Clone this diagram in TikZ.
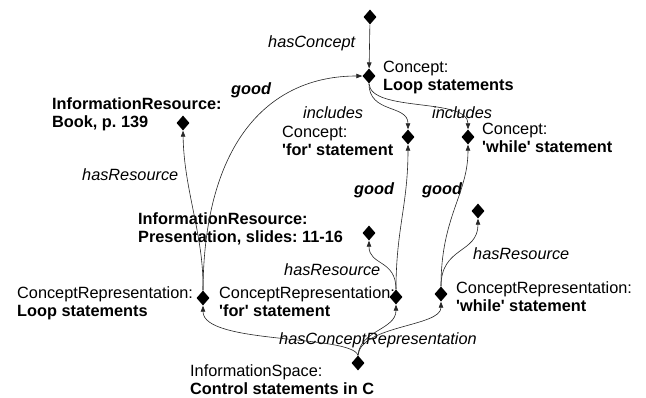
\documentclass[tikz,border=0pt]{standalone}
\usepackage{fontspec}
\setmainfont{Liberation Sans}
\usetikzlibrary{shapes.geometric,arrows.meta}
\newcommand{\sq}{\textquotesingle}
\begin{document}
\begin{tikzpicture}[x=1pt,y=-1pt,
  dia/.style={diamond,fill=black,inner sep=0pt,minimum width=13pt,minimum height=15pt},
  lbl/.style={anchor=base west,inner sep=0pt,align=left,font=\fontsize{16.3}{18}\selectfont\frenchspacing},
  rel/.style={anchor=base west,inner sep=0pt,font=\fontsize{16.3}{18}\selectfont\itshape},
  edge/.style={draw=black!85,line width=0.6pt,-{Triangle[length=6pt,width=4.5pt]}}]
\useasboundingbox (0,0) rectangle (646,397);
\fill[white] (0,0) rectangle (646,397);
% diamonds
\node[dia] (top) at (370,17) {};
\node[dia] (c1) at (369,76) {};
\node[dia] (book) at (183,123) {};
\node[dia] (cf) at (408,137) {};
\node[dia] (cw) at (468,137) {};
\node[dia] (pres) at (369,233) {};
\node[dia] (wres) at (478,211) {};
\node[dia] (crl) at (203,298) {};
\node[dia] (crf) at (396,297) {};
\node[dia] (crw) at (441,294) {};
\node[dia] (is) at (358,363) {};
% labels (two-line labels: base = baseline of the second line)
\node[rel] (lhc) at (268,47) {hasConcept};
\node[lbl] (tc1) at (383,90) {Concept:\\\textbf{Loop statements}};
\node[lbl] (lg1) at (231,94) {\textbf{\textit{good}}};
\node[lbl] (tbook) at (52,127) {\textbf{InformationResource:}\\\textbf{Book, p. 139}};
\node[rel] (lhr1) at (82,180) {hasResource};
\node[rel] (linc1) at (303,118) {includes};
\node[lbl] (tcf) at (282,155) {Concept:\\\textbf{\sq for\sq{} statement}};
\node[rel] (linc2) at (432,118) {includes};
\node[lbl] (tcw) at (482,152) {Concept:\\\textbf{\sq while\sq{} statement}};
\node[lbl] (lg2) at (354,194) {\textbf{\textit{good}}};
\node[lbl] (lg3) at (422,194) {\textbf{\textit{good}}};
\node[lbl] (tpres) at (138,242) {\textbf{InformationResource:}\\\textbf{Presentation, slides: 11-16}};
\node[rel] (lhr2) at (284,275) {hasResource};
\node[rel] (lhr3) at (473,259) {hasResource};
\node[lbl] (tcrl) at (17,316) {ConceptRepresentation:\\\textbf{Loop statements}};
\node[lbl] (tcrf) at (219,316) {ConceptRepresentation:\\\textbf{\sq for\sq{} statement}};
\node[lbl] (tcrw) at (456,311) {ConceptRepresentation:\\\textbf{\sq while\sq{} statement}};
\node[rel] (lhcr) at (279,344) {hasConceptRepresentation};
\node[lbl] (tis) at (190,394) {InformationSpace:\\\textbf{Control statements in C}};
% connectors
\draw[edge] (top) -- (c1);
\draw[edge] (crl.north) .. controls +(1,-150) and +(-92,0) .. (c1.west);
\draw[edge] (crl.north) .. controls +(1,-55) and +(1,60) .. (book.south);
\draw[edge] (c1.south) .. controls +(0,30) and +(0,-25) .. (cf.north);
\draw[edge] (c1.south) .. controls +(2,29) and +(0,-32) .. (cw.north);
\draw[edge] (crf.north) .. controls +(0,-60) and +(0,60) .. (cf.south);
\draw[edge] (crw.north) .. controls +(0,-70) and +(0,50) .. (cw.south);
\draw[edge] (crf.north) .. controls +(0,-30) and +(0,25) .. (pres.south);
\draw[edge] (crw.north) .. controls +(0,-40) and +(0,35) .. (wres.south);
\draw[edge] (is.north) .. controls +(-7,-21) and +(0,39) .. (crl.south);
\draw[edge] (is.north) .. controls +(2,-25) and +(0,25) .. (crf.south);
\draw[edge] (is.north) .. controls +(3,-30) and +(0,25) .. (crw.south);
\end{tikzpicture}
\end{document}
